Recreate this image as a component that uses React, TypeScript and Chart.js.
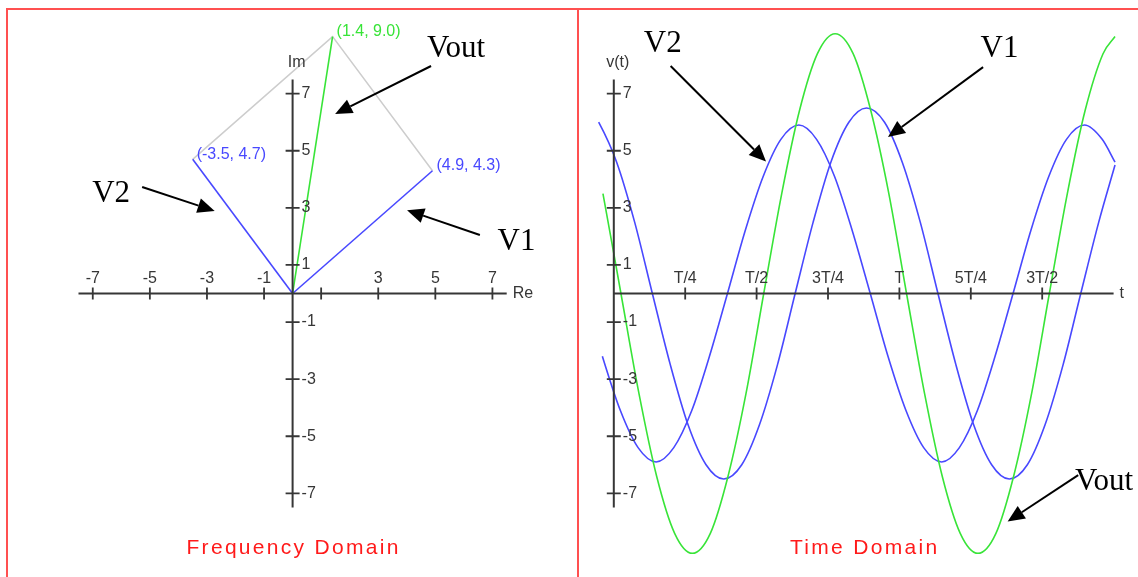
import { useEffect, useRef } from 'react';
import { Chart, registerables } from 'chart.js';

Chart.register(...registerables);

// Phasors as (real, imaginary)
const V1_PHASOR = [4.9, 4.3];
const V2_PHASOR = [-3.5, 4.7];
const VOUT_PHASOR = [1.4, 9.0];

// Time-domain waveforms, t measured in periods T
const V1_TIME = [-0.066, -0.053, 0.01, 0.073, 0.135, 0.198, 0.26, 0.323, 0.385, 0.448, 0.51, 0.573, 0.635, 0.698, 0.76, 0.823, 0.885, 0.948, 1.01, 1.073, 1.135, 1.198, 1.26, 1.323, 1.385, 1.448, 1.51, 1.573, 1.635, 1.698, 1.755];
const V1_VALUES = [6.2, 6.0, 4.6, 2.5, 0.0, -2.5, -4.6, -6.0, -6.5, -6.0, -4.6, -2.5, 0.0, 2.5, 4.6, 6.0, 6.5, 6.0, 4.6, 2.5, 0.0, -2.5, -4.6, -6.0, -6.5, -6.0, -4.6, -2.5, 0.0, 2.5, 4.5];

const V2_TIME = [-0.066, -0.04, 0.023, 0.085, 0.148, 0.21, 0.273, 0.335, 0.398, 0.46, 0.523, 0.585, 0.648, 0.71, 0.773, 0.835, 0.898, 0.96, 1.023, 1.085, 1.148, 1.21, 1.273, 1.335, 1.398, 1.46, 1.523, 1.585, 1.648, 1.71, 1.755];
const V2_VALUES = [-1.3, -2.2, -4.1, -5.4, -5.9, -5.4, -4.1, -2.2, 0.0, 2.2, 4.1, 5.4, 5.9, 5.4, 4.1, 2.2, 0.0, -2.2, -4.1, -5.4, -5.9, -5.4, -4.1, -2.2, 0.0, 2.2, 4.1, 5.4, 5.9, 5.4, 4.6];

const VOUT_TIME = [-0.066, -0.038, 0.025, 0.088, 0.15, 0.213, 0.275, 0.338, 0.4, 0.463, 0.525, 0.588, 0.65, 0.713, 0.775, 0.838, 0.9, 0.963, 1.025, 1.088, 1.15, 1.213, 1.275, 1.338, 1.4, 1.463, 1.525, 1.588, 1.65, 1.713, 1.755];
const VOUT_VALUES = [4.9, 3.5, 0.0, -3.5, -6.4, -8.4, -9.1, -8.4, -6.4, -3.5, 0.0, 3.5, 6.4, 8.4, 9.1, 8.4, 6.4, 3.5, 0.0, -3.5, -6.4, -8.4, -9.1, -8.4, -6.4, -3.5, 0.0, 3.5, 6.4, 8.4, 9.0];

// Axis ticks
const RE_TICKS = [-7, -5, -3, -1, 1, 3, 5, 7];
const RE_TICK_LABELS = ['-7', '-5', '-3', '-1', '', '3', '5', '7'];
const V_TICKS = [7, 5, 3, 1, -1, -3, -5, -7];
const V_TICK_LABELS = ['7', '5', '3', '1', '-1', '-3', '-5', '-7'];
const T_TICKS = [0.25, 0.5, 0.75, 1, 1.25, 1.5];
const T_TICK_LABELS = ['T/4', 'T/2', '3T/4', 'T', '5T/4', '3T/2'];

const BLUE = '#4848ff';
const GREEN = '#38e438';
const GRAY = '#cdcdcd';
const AXIS = '#363636';
const CAPTION = '#ff1a1a';
const FRAME = '#ff5050';
const SANS = '"Liberation Sans", Arial, sans-serif';
const SERIF = '"Liberation Serif", "Times New Roman", serif';

// Callout labels with arrows, placed in each panel's data units
const FREQ_CALLOUTS = [
  { text: 'Vout', at: [4.71, 8.27], from: [4.85, 7.97], to: [1.49, 6.29] },
  { text: 'V2', at: [-7.02, 3.22], from: [-5.27, 3.73], to: [-2.73, 2.89] },
  { text: 'V1', at: [7.18, 1.52], from: [6.56, 2.05], to: [4.01, 2.92] },
];
const TIME_CALLOUTS = [
  { text: 'V2', at: [0.105, 8.47], from: [0.199, 7.97], to: [0.533, 4.62] },
  { text: 'V1', at: [1.284, 8.27], from: [1.293, 7.93], to: [0.96, 5.48] },
  { text: 'Vout', at: [1.615, -6.88], from: [1.626, -6.36], to: [1.379, -7.99] },
];

// Draws the crossing axes with "+" tick marks, tick labels, axis names and the caption
const crossAxes = {
  id: 'crossAxes',
  afterDatasetsDraw(chart: any, _args: any, opts: any) {
    const { ctx, chartArea: a } = chart;
    const xs = chart.scales.x;
    const ys = chart.scales.y;
    const x0 = xs.getPixelForValue(opts.xOrigin);
    const y0 = ys.getPixelForValue(0);
    ctx.save();
    ctx.strokeStyle = AXIS;
    ctx.fillStyle = AXIS;
    ctx.lineWidth = 2;
    ctx.beginPath();
    ctx.moveTo(opts.xFromLeft ? a.left : x0, y0);
    ctx.lineTo(a.right, y0);
    ctx.moveTo(x0, a.top);
    ctx.lineTo(x0, a.bottom);
    ctx.stroke();

    ctx.lineWidth = 1.8;
    ctx.beginPath();
    opts.xTicks.forEach((v: number) => {
      const px = xs.getPixelForValue(v);
      ctx.moveTo(px, y0 - 6);
      ctx.lineTo(px, y0 + 6);
    });
    opts.yTicks.forEach((v: number) => {
      const py = ys.getPixelForValue(v);
      ctx.moveTo(x0 - 7, py);
      ctx.lineTo(x0 + 7, py);
    });
    ctx.stroke();

    ctx.font = `16px ${SANS}`;
    ctx.textBaseline = 'middle';
    ctx.textAlign = 'center';
    opts.xTicks.forEach((v: number, i: number) => {
      ctx.fillText(opts.xLabels[i], xs.getPixelForValue(v), y0 - 15);
    });
    ctx.textAlign = 'left';
    opts.yTicks.forEach((v: number, i: number) => {
      ctx.fillText(opts.yLabels[i], x0 + 9, ys.getPixelForValue(v));
    });
    ctx.fillText(opts.xName, a.right + 6, y0);
    ctx.textAlign = 'center';
    ctx.fillText(opts.yName, x0 + 4, a.top - 17);

    ctx.fillStyle = CAPTION;
    ctx.font = `21px ${SANS}`;
    ctx.letterSpacing = '2.3px';
    ctx.textBaseline = 'alphabetic';
    ctx.fillText(opts.caption, (a.left + a.right) / 2 + 1, a.bottom + 46);
    ctx.restore();
  },
};

// Value labels at the phasor tips
const tipLabels = {
  id: 'tipLabels',
  afterDatasetsDraw(chart: any, _args: any, opts: any) {
    if (!opts.items) return;
    const { ctx } = chart;
    const xs = chart.scales.x;
    const ys = chart.scales.y;
    ctx.save();
    ctx.font = `16px ${SANS}`;
    ctx.textBaseline = 'middle';
    ctx.textAlign = 'left';
    opts.items.forEach((it: any) => {
      const [re, im] = it.phasor;
      ctx.fillStyle = it.color;
      ctx.fillText(`(${re.toFixed(1)}, ${im.toFixed(1)})`, xs.getPixelForValue(re) + 4, ys.getPixelForValue(im) - 5);
    });
    ctx.restore();
  },
};

// Serif callouts with filled arrow heads
const callouts = {
  id: 'callouts',
  afterDraw(chart: any, _args: any, opts: any) {
    if (!opts.items) return;
    const { ctx } = chart;
    const xs = chart.scales.x;
    const ys = chart.scales.y;
    ctx.save();
    ctx.fillStyle = '#000';
    ctx.strokeStyle = '#000';
    ctx.font = `31px ${SERIF}`;
    ctx.textBaseline = 'alphabetic';
    ctx.textAlign = 'left';
    opts.items.forEach((c: any) => {
      ctx.fillText(c.text, xs.getPixelForValue(c.at[0]), ys.getPixelForValue(c.at[1]));
      const x1 = xs.getPixelForValue(c.from[0]);
      const y1 = ys.getPixelForValue(c.from[1]);
      const x2 = xs.getPixelForValue(c.to[0]);
      const y2 = ys.getPixelForValue(c.to[1]);
      const ang = Math.atan2(y2 - y1, x2 - x1);
      const head = 17;
      const half = 7.5;
      const bx = x2 - head * Math.cos(ang);
      const by = y2 - head * Math.sin(ang);
      ctx.lineWidth = 2;
      ctx.beginPath();
      ctx.moveTo(x1, y1);
      ctx.lineTo(bx, by);
      ctx.stroke();
      ctx.beginPath();
      ctx.moveTo(x2, y2);
      ctx.lineTo(bx - half * Math.sin(ang), by + half * Math.cos(ang));
      ctx.lineTo(bx + half * Math.sin(ang), by - half * Math.cos(ang));
      ctx.closePath();
      ctx.fill();
    });
    ctx.restore();
  },
};

const toPoints = (xs: number[], ys: number[]) => xs.map((x, i) => ({ x, y: ys[i] }));

const phasorLine = (p: number[], color: string) => ({
  data: [{ x: 0, y: 0 }, { x: p[0], y: p[1] }],
  borderColor: color,
  borderWidth: 1.6,
  pointRadius: 0,
  showLine: true,
  clip: false as const,
});

const wave = (t: number[], v: number[], color: string) => ({
  data: toPoints(t, v),
  borderColor: color,
  borderWidth: 1.6,
  pointRadius: 0,
  showLine: true,
  cubicInterpolationMode: 'monotone' as const,
  capBezierPoints: false,
  clip: false as const,
});

function freqConfig(): any {
  return {
    type: 'scatter',
    data: {
      datasets: [
        phasorLine(VOUT_PHASOR, GREEN),
        phasorLine(V1_PHASOR, BLUE),
        phasorLine(V2_PHASOR, BLUE),
        {
          data: [
            { x: V2_PHASOR[0], y: V2_PHASOR[1] },
            { x: VOUT_PHASOR[0], y: VOUT_PHASOR[1] },
            { x: V1_PHASOR[0], y: V1_PHASOR[1] },
          ],
          borderColor: GRAY,
          borderWidth: 1.5,
          pointRadius: 0,
          showLine: true,
          clip: false,
        },
      ],
    },
    options: {
      responsive: false,
      animation: false,
      events: [],
      layout: { padding: { left: 78.5, right: 71.3, top: 79.4, bottom: 69.4 } },
      scales: {
        x: { type: 'linear', min: -7.5, max: 7.5, display: false },
        y: { type: 'linear', min: -7.5, max: 7.5, display: false },
      },
      plugins: {
        legend: { display: false },
        tooltip: { enabled: false },
        crossAxes: {
          xOrigin: 0,
          xFromLeft: true,
          xTicks: RE_TICKS,
          xLabels: RE_TICK_LABELS,
          yTicks: V_TICKS,
          yLabels: V_TICK_LABELS,
          xName: 'Re',
          yName: 'Im',
          caption: 'Frequency Domain',
        },
        tipLabels: {
          items: [
            { phasor: VOUT_PHASOR, color: GREEN },
            { phasor: V2_PHASOR, color: BLUE },
            { phasor: V1_PHASOR, color: BLUE },
          ],
        },
        callouts: { items: FREQ_CALLOUTS },
      },
    },
    plugins: [crossAxes, tipLabels, callouts],
  };
}

function timeConfig(): any {
  return {
    type: 'scatter',
    data: {
      datasets: [
        wave(VOUT_TIME, VOUT_VALUES, GREEN),
        wave(V1_TIME, V1_VALUES, BLUE),
        wave(V2_TIME, V2_VALUES, BLUE),
      ],
    },
    options: {
      responsive: false,
      animation: false,
      events: [],
      layout: { padding: { left: 35.8, right: 24.4, top: 79.4, bottom: 69.4 } },
      scales: {
        x: { type: 'linear', min: 0, max: 1.75, display: false },
        y: { type: 'linear', min: -7.5, max: 7.5, display: false },
      },
      plugins: {
        legend: { display: false },
        tooltip: { enabled: false },
        crossAxes: {
          xOrigin: 0,
          xFromLeft: false,
          xTicks: T_TICKS,
          xLabels: T_TICK_LABELS,
          yTicks: V_TICKS,
          yLabels: V_TICK_LABELS,
          xName: 't',
          yName: 'v(t)',
          caption: 'Time Domain',
        },
        tipLabels: {},
        callouts: { items: TIME_CALLOUTS },
      },
    },
    plugins: [crossAxes, tipLabels, callouts],
  };
}

function Panel({ left, width, makeConfig }: { left: number; width: number; makeConfig: () => any }) {
  const ref = useRef<HTMLCanvasElement | null>(null);
  useEffect(() => {
    if (!ref.current) return;
    const chart = new Chart(ref.current, makeConfig());
    return () => chart.destroy();
  }, [makeConfig]);
  return (
    <canvas
      ref={ref}
      width={width}
      height={577}
      style={{ position: 'absolute', left, top: 0, width, height: 577, display: 'block' }}
    />
  );
}

export default function App() {
  return (
    <div
      style={{
        position: 'absolute',
        left: 0,
        top: 0,
        width: 1138,
        height: 577,
        background: '#ffffff',
        overflow: 'hidden',
      }}
    >
      <Panel left={0} width={578} makeConfig={freqConfig} />
      <Panel left={578} width={560} makeConfig={timeConfig} />
      <div style={{ position: 'absolute', left: 6, top: 7.5, width: 2, height: 570, background: FRAME }} />
      <div style={{ position: 'absolute', left: 6, top: 7.5, width: 1132, height: 2, background: FRAME }} />
      <div style={{ position: 'absolute', left: 577, top: 7.5, width: 2, height: 570, background: FRAME }} />
    </div>
  );
}
